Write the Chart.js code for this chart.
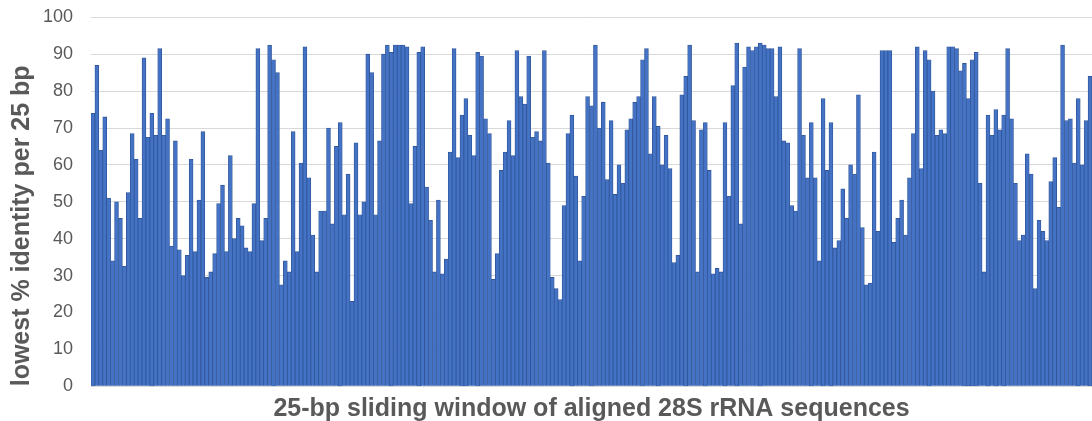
<!DOCTYPE html>
<html>
<head>
<meta charset="utf-8">
<script src="https://cdn.jsdelivr.net/npm/chart.js@4/dist/chart.umd.min.js"></script>
<style>
  html, body { margin: 0; padding: 0; background: #ffffff; overflow: hidden; }
  #wrap { width: 1092px; height: 421px; }
</style>
</head>
<body>
<div id="wrap"><canvas id="c" width="1092" height="421"></canvas></div>
<script>
// lowest % identity per 25 bp, one value per sliding window
const identityValues = [
  74, 87, 64, 73, 51, 34, 50, 45.5, 32.5, 52.5, 68.5, 61.5, 45.5, 89, 67.5, 74, 68, 91.5, 68, 72.5, 38, 66.5, 37, 30, 35.5,
  61.5, 36.5, 50.5, 69, 29.5, 31, 36, 49.5, 54.5, 36.5, 62.5, 40, 45.5, 43.5, 37.5, 36.5, 49.5, 91.5, 39.5, 45.5, 92.5, 88.5, 85, 27.5, 34, 31,
  69, 36.5, 60.5, 92, 56.5, 41, 31, 47.5, 47.5, 70, 44, 65, 71.5, 46.5, 57.5, 23, 66, 46.5, 50, 90, 85, 46.5, 66.5, 90, 92.5,
  90.5, 92.5, 92.5, 92.5, 92, 49.5, 65, 90.5, 92, 54, 45, 31, 50.5, 30.5, 34.5, 63.5, 91.5, 62, 73.5, 78, 68, 62.5, 90.5, 89.5, 72.5, 68.5,
  29, 36, 58.5, 63.5, 72, 62.5, 91, 78.5, 76.5, 89.5, 67.5, 69, 66.5, 91, 60.5, 29.5, 26.5, 23.5, 49, 68.5, 73.5, 57, 34, 51.5, 78.5,
  76, 92.5, 70, 77, 56, 72, 52, 60, 55, 69.5, 72.5, 77, 78.5, 88.5, 91.5, 63, 78.5, 70.5, 60, 68, 59, 33.5, 35.5, 79, 84, 92.5,
  72, 31, 69.5, 71.5, 58.5, 30.5, 32, 31, 71.5, 51.5, 81.5, 93, 44, 86.5, 92, 91, 92, 93, 92.5, 91.5, 91.5, 78.5, 92, 66.5, 66,
  49, 47.5, 91.5, 68, 56.5, 71.5, 56.5, 34, 78, 58.5, 71.5, 37.5, 39.5, 53.5, 45.5, 60, 57.5, 79, 43, 27.5, 28, 63.5, 42, 91, 91,
  91, 39, 45.5, 50.5, 41, 56.5, 68.5, 92, 59, 91, 88.5, 80, 68, 69.5, 68.5, 92, 92, 91.5, 85.5, 87.5, 78, 88.5, 90.5, 55, 31, 73.5,
  68, 75, 69.5, 73.5, 91.5, 72.5, 55, 39.5, 41, 63, 57.5, 26.5, 45, 42, 39.5, 55.5, 62, 48.5, 92.5, 72, 72.5, 60.5, 78, 60, 72, 84
];
// window index labels (one category per bar)
const windowLabels = identityValues.map((_, i) => String(i + 1));
// y-axis tick labels
const yTickLabels = [0, 10, 20, 30, 40, 50, 60, 70, 80, 90, 100];
const xTitle = '25-bp sliding window of aligned 28S rRNA sequences';
const yTitle = 'lowest % identity per 25 bp';

const FONT = "'Liberation Sans', Arial, Helvetica, sans-serif";
const GREY = '#595959';

new Chart(document.getElementById('c'), {
  type: 'bar',
  data: {
    labels: windowLabels,
    datasets: [{
      data: identityValues,
      backgroundColor: '#4472C4',
      borderColor: '#2F5597',
      borderWidth: 0.8,
      barPercentage: 1,
      categoryPercentage: 1
    }]
  },
  options: {
    responsive: false,
    animation: false,
    devicePixelRatio: 1,
    layout: { padding: 0 },
    plugins: { legend: { display: false }, tooltip: { enabled: false } },
    scales: {
      x: {
        ticks: { display: false },
        grid: { display: false },
        border: { display: false },
        title: {
          display: true,
          text: xTitle,
          color: GREY,
          font: { family: FONT, size: 25, weight: 'bold' },
          padding: { top: 0, bottom: -3 }
        },
        afterFit: (s) => { s.height = 34.7; }
      },
      y: {
        min: 0,
        max: 100,
        afterBuildTicks: (s) => { s.ticks = yTickLabels.map(v => ({ value: v })); },
        ticks: {
          color: GREY,
          font: { family: FONT, size: 18 },
          padding: 18
        },
        grid: { color: '#D9D9D9', lineWidth: 1, drawTicks: false },
        border: { display: false },
        title: {
          display: true,
          text: yTitle,
          align: 'start',
          color: GREY,
          font: { family: FONT, size: 25, weight: 'bold' },
          padding: { top: 7, bottom: 0 }
        },
        afterFit: (s) => { s.width = 91; s.paddingTop = 17.3; s.paddingBottom = 0; }
      }
    }
  }
});
</script>
</body>
</html>
